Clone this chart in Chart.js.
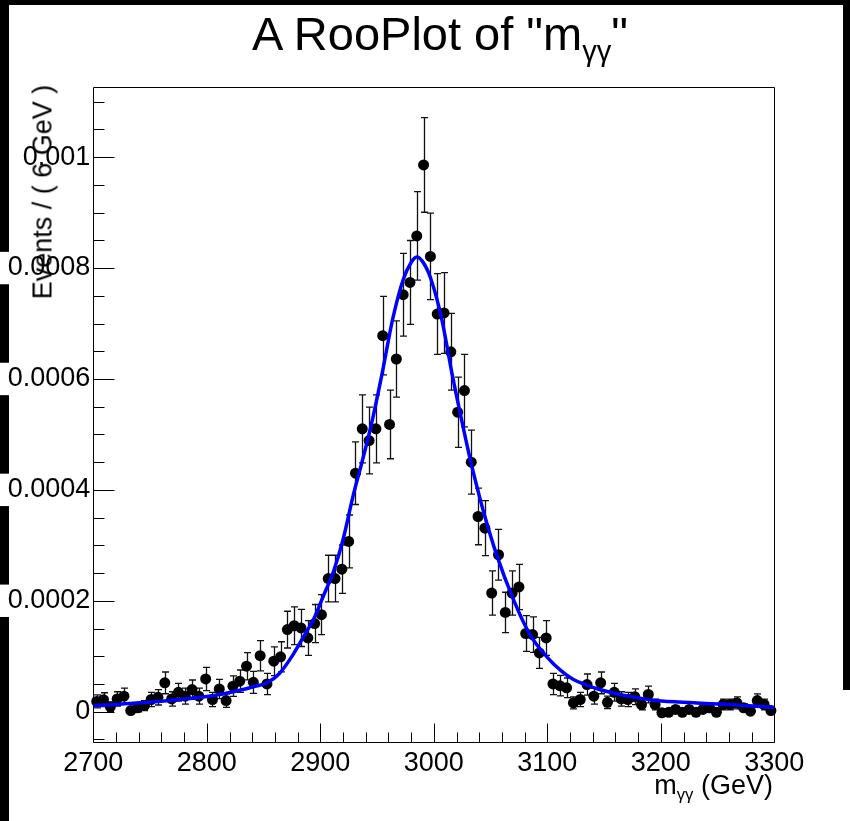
<!DOCTYPE html>
<html>
<head>
<meta charset="utf-8">
<script src="https://cdn.jsdelivr.net/npm/chart.js@4.4.1/dist/chart.umd.min.js"></script>
<style>
  html, body { margin: 0; padding: 0; background: #fff; }
  #wrap { position: relative; width: 850px; height: 821px; overflow: hidden; background: #fff; }
  .blk { position: absolute; background: #000; }
  canvas { position: absolute; left: 0; top: 0; }
  .txt { position: absolute; font-family: "Liberation Sans", Arial, sans-serif; color: #000; white-space: nowrap; }
  .sub { font-size: 0.62em; position: relative; top: 0.38em; }
</style>
</head>
<body>
<div id="wrap">
  <div class="blk" style="left:0;top:0;width:850px;height:5px;"></div>
  <div class="blk" style="left:0;top:0;width:9px;height:821px;"></div>
  <div class="blk" style="left:843px;top:0;width:7px;height:690px;"></div>
  <canvas id="c" width="850" height="821"></canvas>
  <div class="txt" id="title" style="left:440px;top:10px;font-size:47px;line-height:47px;transform:translateX(-50%);">A RooPlot of "m<span class="sub">γγ</span>"</div>
  <div class="txt" id="ytitle" style="left:43px;top:192px;font-size:27px;line-height:27px;transform:translate(-50%,-50%) rotate(-90deg);">Events / ( 6 GeV )</div>
  <div class="txt" id="xtitle" style="right:77px;top:772px;font-size:27px;line-height:27px;">m<span class="sub">γγ</span> (GeV)</div>
</div>
<script>
// ---- data ----
// bin centres of m_γγ (GeV), 6 GeV bins
const massBinCenters = [2703,2709,2715,2721,2727,2733,2739,2745,2751,2757,2763,2769,2775,2781,2787,2793,2799,2805,2811,2817,2823,2829,2835,2841,2847,2853,2859,2865,2871,2877,2883,2889,2895,2901,2907,2913,2919,2925,2931,2937,2943,2949,2955,2961,2967,2973,2979,2985,2991,2997,3003,3009,3015,3021,3027,3033,3039,3045,3051,3057,3063,3069,3075,3081,3087,3093,3099,3105,3111,3117,3123,3129,3135,3141,3147,3153,3159,3165,3171,3177,3183,3189,3195,3201,3207,3213,3219,3225,3231,3237,3243,3249,3255,3261,3267,3273,3279,3285,3291,3297];
// Events / (6 GeV), in units of 1e-5
const eventsE5 = [1.86,2.16,0.9,2.3,2.8,0.2,0.7,1.1,2.2,2.6,5.2,2.3,3.5,2.8,4.0,2.8,5.9,2.2,4.1,2.0,4.6,5.5,8.2,5.3,10.1,5.0,9.1,9.9,14.8,15.5,15.1,13.3,15.9,17.5,24.0,24.0,25.7,30.7,43.0,51.0,48.9,51.0,67.8,51.8,63.6,75.2,77.4,85.8,98.6,82.1,71.7,71.9,64.9,54.0,57.9,45.0,35.2,33.1,21.4,28.3,17.9,21.4,22.5,14.1,13.9,10.6,13.3,5.0,4.7,4.3,1.6,2.2,4.9,2.8,5.2,1.7,3.5,2.3,2.2,2.7,1.3,3.1,1.3,-0.2,-0.1,0.4,-0.1,0.4,-0.1,0.4,0.7,-0.1,1.3,1.3,1.6,0.7,0.1,2.0,1.3,0.2];
// symmetric error bar half-lengths, units of 1e-5
const errorsE5 = [1.17,1.26,0.82,1.30,1.44,0.38,0.72,0.90,1.28,1.39,1.96,1.30,1.61,1.44,1.72,1.44,2.09,1.28,1.74,1.22,1.85,2.02,2.46,1.98,2.73,1.92,2.60,2.71,3.31,3.39,3.34,3.14,3.43,3.60,4.21,4.21,4.36,4.77,5.64,6.14,6.02,6.14,7.08,6.19,6.86,7.46,7.57,7.97,8.54,7.79,7.28,7.29,6.93,6.32,6.55,5.77,5.10,4.95,3.98,4.58,3.64,3.98,4.08,3.23,3.21,2.80,3.14,1.92,1.86,1.78,1.09,1.28,1.90,1.44,1.96,1.12,1.61,1.30,1.28,1.41,0.98,1.51,0.98,0.38,0.30,0.54,0.30,0.54,0.30,0.54,0.72,0.30,0.98,0.98,1.09,0.72,0.30,1.22,0.98,0.38];
// fitted pdf curve
const curveMass = [2700,2720,2741,2760,2776,2795,2814,2830,2841,2853,2864,2876,2888,2894,2903,2912,2920,2929,2938,2945,2954,2964,2973,2980,2985,2990,2997,3007,3016,3020,3032,3041,3045,3055,3070,3085,3100,3112,3123,3135,3146,3164,3180,3196,3229,3264,3300];
const curveE5 = [1.1,1.3,1.6,1.9,2.2,2.6,3.2,3.9,4.5,5.2,6.9,10.3,14.5,16.6,21.0,25.5,31.0,39.0,46.0,51.8,60.5,71.0,77.9,81.0,82.0,81.2,78.3,70.8,61.0,57.0,45.6,38.2,35.2,28.5,20.3,13.8,9.8,7.4,5.8,4.8,4.0,3.1,2.5,2.0,1.6,1.25,0.75];
// axis ticks
const xTickValues = [2700,2800,2900,3000,3100,3200,3300];
const xTickLabels = ["2700","2800","2900","3000","3100","3200","3300"];
const yTickValues = [0,0.0002,0.0004,0.0006,0.0008,0.001];
const yTickLabels = ["0","0.0002","0.0004","0.0006","0.0008","0.001"];

const UNIT = 1e-5;
const FONT = "'Liberation Sans', Arial, sans-serif";

const pointData = massBinCenters.map((m,i)=>({x:m, y:eventsE5[i]*UNIT}));
const curveData = curveMass.map((m,i)=>({x:m, y:curveE5[i]*UNIT}));

const rootFrame = {
  id: 'rootFrame',
  beforeDatasetsDraw(chart) {
    const {ctx, chartArea: a, scales: {x, y}} = chart;
    ctx.save();
    ctx.strokeStyle = '#000';
    ctx.lineWidth = 1;
    const L = Math.round(a.left) + 0.5, R = Math.round(a.right) + 0.5;
    const T = Math.round(a.top) + 0.5, B = Math.round(a.bottom) + 0.5;
    ctx.beginPath();
    ctx.rect(L, T, R - L, B - T);
    // x ticks: major every 100, minor every 20 (inside)
    for (let k = 0; k <= 30; k++) {
      const v = x.min + k * 20;
      const px = Math.round(x.getPixelForValue(v)) + 0.5;
      const len = (k % 5 === 0) ? 19 : 10;
      ctx.moveTo(px, B); ctx.lineTo(px, B - len);
    }
    // y ticks: major every 0.0002, minor every 0.00005
    for (let k = -2; k <= 24; k++) {
      const v = k * 0.00005;
      if (v < y.min || v > y.max) continue;
      const py = Math.round(y.getPixelForValue(v)) + 0.5;
      const len = (k % 4 === 0) ? 21 : 11;
      ctx.moveTo(L, py); ctx.lineTo(L + len, py);
    }
    ctx.stroke();
    ctx.restore();
  }
};

const errorBars = {
  id: 'errorBars',
  beforeDatasetDraw(chart, args) {
    if (chart.data.datasets[args.index].label !== 'data') return;
    const {ctx, scales: {x, y}} = chart;
    ctx.save();
    ctx.strokeStyle = '#111';
    ctx.lineWidth = 1.3;
    ctx.beginPath();
    massBinCenters.forEach((m, i) => {
      const px = Math.round(x.getPixelForValue(m)) + 0.5;
      const v = eventsE5[i] * UNIT, e = errorsE5[i] * UNIT;
      const y1 = y.getPixelForValue(v + e), y2 = y.getPixelForValue(v - e);
      ctx.moveTo(px, y1); ctx.lineTo(px, y2);
      ctx.moveTo(px - 3.5, y1); ctx.lineTo(px + 3.5, y1);
      ctx.moveTo(px - 3.5, y2); ctx.lineTo(px + 3.5, y2);
    });
    ctx.stroke();
    ctx.restore();
  }
};

new Chart(document.getElementById('c'), {
  type: 'scatter',
  data: {
    datasets: [
      {
        type: 'line',
        label: 'pdf',
        data: curveData,
        borderColor: '#0000ff',
        borderWidth: 3.5,
        pointRadius: 0,
        fill: false,
        cubicInterpolationMode: 'monotone',
        order: 0
      },
      {
        label: 'data',
        data: pointData,
        backgroundColor: '#000',
        borderColor: '#000',
        borderWidth: 0,
        pointRadius: 5.5,
        clip: false,
        order: 1
      }
    ]
  },
  options: {
    responsive: false,
    animation: false,
    devicePixelRatio: 1,
    layout: { padding: { left: 0, top: 86.7, right: 75.7, bottom: 0 } },
    plugins: { legend: { display: false }, tooltip: { enabled: false }, title: { display: false } },
    scales: {
      x: {
        type: 'linear',
        min: 2700, max: 3300,
        grid: { display: false, drawTicks: false },
        border: { display: false },
        afterBuildTicks: s => { s.ticks = xTickValues.map(v => ({value: v})); },
        afterFit: s => { s.height = 821 - 741.7; },
        ticks: {
          padding: 6,
          color: '#000',
          font: { family: FONT, size: 27 },
          maxRotation: 0,
          autoSkip: false,
          callback: (val, idx) => xTickLabels[idx]
        }
      },
      y: {
        type: 'linear',
        min: -0.0000541, max: 0.001127,
        grid: { display: false, drawTicks: false },
        border: { display: false },
        afterBuildTicks: s => { s.ticks = yTickValues.map(v => ({value: v})); },
        afterFit: s => { s.width = 93.3; },
        ticks: {
          padding: 3,
          color: '#000',
          font: { family: FONT, size: 27 },
          autoSkip: false,
          showLabelBackdrop: true,
          backdropColor: '#fff',
          backdropPadding: { left: 10, right: 0, top: 0, bottom: 0 },
          callback: (val, idx) => yTickLabels[idx]
        }
      }
    }
  },
  plugins: [rootFrame, errorBars]
});
</script>
</body>
</html>
